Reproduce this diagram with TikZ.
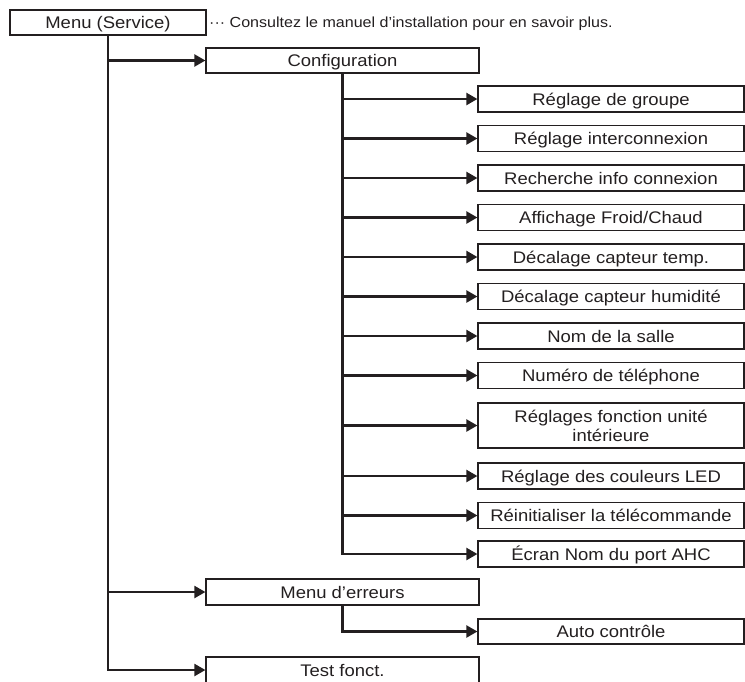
\documentclass[tikz,border=0pt]{standalone}
\usepackage{fontspec}
\setmainfont{Liberation Sans}[FakeStretch=1.1]
\usetikzlibrary{positioning,arrows.meta}
\definecolor{ink}{HTML}{231F20}
\tikzstyle{menuitem} = [draw=ink, line width=1.2pt, rectangle, text=ink, align=center, minimum width=273pt, minimum height=26pt, inner sep=0pt, text height=13pt, text depth=0.5pt, font=\fontsize{16.8}{18.5}\selectfont]
\tikzstyle{subitem} = [menuitem, minimum width=266pt]
\tikzstyle{line} = [draw=ink, line width=2.2pt, -{Triangle[length=11pt,width=12pt]}]

\begin{document}
\begin{tikzpicture}[x=1pt, y=1pt, node distance=39.5pt]
    \useasboundingbox (0,0) rectangle (745,-681);

    % Place nodes
    \node [menuitem, minimum width=196pt, minimum height=25pt] (service) at (108,-22.5) {Menu (Service)};
    \node [anchor=base west, text=ink, inner sep=0pt, font=\fontsize{14.6}{17}\selectfont] (note) at (209,-27.5) {··· Consultez le manuel d'installation pour en savoir plus.};
    \node [menuitem, minimum height=25pt] (config) at (342.5,-60.5) {Configuration};
    \node [subitem] (groupe) at (611,-99) {Réglage de groupe};
    \node [subitem, below of=groupe] (interco) {Réglage interconnexion};
    \node [subitem, below of=interco] (recherche) {Recherche info connexion};
    \node [subitem, below of=recherche] (affichage) {Affichage Froid/Chaud};
    \node [subitem, below of=affichage] (captemp) {Décalage capteur temp.};
    \node [subitem, below of=captemp] (caphum) {Décalage capteur humidité};
    \node [subitem, below of=caphum] (salle) {Nom de la salle};
    \node [subitem, below of=salle] (tel) {Numéro de téléphone};
    \node [subitem, below of=tel, node distance=50pt, minimum height=45pt, text height=31.5pt] (fonction) {Réglages fonction unité\\intérieure};
    \node [subitem, below of=fonction, node distance=50.5pt] (led) {Réglage des couleurs LED};
    \node [subitem, below of=led] (reinit) {Réinitialiser la télécommande};
    \node [subitem, below of=reinit, node distance=38.5pt] (ahc) {Écran Nom du port AHC};
    \node [menuitem] (erreurs) at (342.5,-592) {Menu d'erreurs};
    \node [subitem, minimum height=25pt] (auto) at (611,-631.5) {Auto contrôle};
    \node [menuitem] (test) at (342.5,-670) {Test fonct.};

    % Draw edges
    \path [line] (service.south) |- (config);
    \path [line] (service.south) |- (erreurs);
    \path [line] (service.south) |- (test);
    \path [line] (config.south) |- (groupe);
    \path [line] (config.south) |- (interco);
    \path [line] (config.south) |- (recherche);
    \path [line] (config.south) |- (affichage);
    \path [line] (config.south) |- (captemp);
    \path [line] (config.south) |- (caphum);
    \path [line] (config.south) |- (salle);
    \path [line] (config.south) |- (tel);
    \path [line] (config.south) |- (fonction);
    \path [line] (config.south) |- (led);
    \path [line] (config.south) |- (reinit);
    \path [line] (config.south) |- (ahc);
    \path [line] (erreurs.south) |- (auto);
\end{tikzpicture}
\end{document}
